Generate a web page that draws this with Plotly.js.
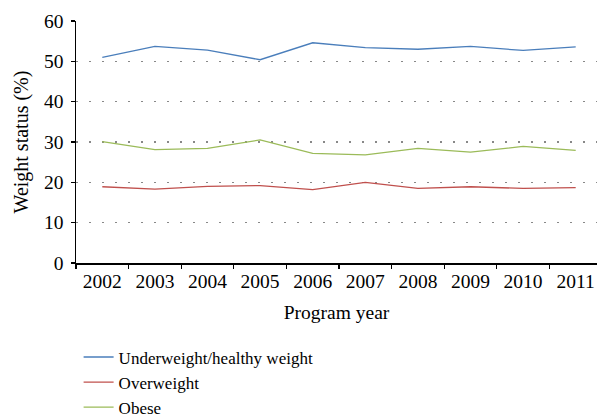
<!DOCTYPE html>
<html>
<head>
<meta charset="utf-8">
<script src="https://cdn.plot.ly/plotly-3.0.1.min.js"></script>
<style>html,body{margin:0;padding:0;overflow:hidden;background:#fff}</style>
</head>
<body>
<div id="chart" style="width:598px;height:417px"></div>
<script>
const years = ["2002","2003","2004","2005","2006","2007","2008","2009","2010","2011"];
const healthy = [51.0, 53.7, 52.8, 50.4, 54.6, 53.4, 53.0, 53.7, 52.7, 53.6];
const overweight = [18.9, 18.3, 19.0, 19.2, 18.2, 20.0, 18.5, 18.9, 18.5, 18.7];
const obese = [30.1, 28.1, 28.4, 30.5, 27.2, 26.8, 28.4, 27.5, 28.9, 27.9];
const seriesNames = ["Underweight/healthy weight", "Overweight", "Obese"];
const colors = ["#4a7ebb", "#c0504d", "#9bbb59"];

const fam = "Liberation Serif";
const data = [healthy, overweight, obese].map((ys, i) => ({
  type: "scatter", mode: "lines", x: years, y: ys, name: seriesNames[i],
  line: {color: colors[i], width: 1.3}
}));

const layout = {
  width: 598, height: 417,
  margin: {l: 76, r: 1, t: 21, b: 154, autoexpand: false},
  paper_bgcolor: "#fff", plot_bgcolor: "#fff",
  font: {family: fam, size: 19, color: "#000"},
  showlegend: true,
  legend: {x: 0.005, y: -0.316, xanchor: "left", yanchor: "top", orientation: "v",
           font: {family: fam, size: 17, color: "#000"}, tracegroupgap: 0,
           bgcolor: "rgba(0,0,0,0)"},
  xaxis: {
    type: "category", range: [-0.5, 9.405], tickson: "boundaries",
    showgrid: false, zeroline: false, automargin: false,
    showline: true, linecolor: "#000", linewidth: 1.5,
    ticks: "outside", ticklen: 4, tickcolor: "#000", tickwidth: 1.2,
    tickfont: {family: fam, size: 19.5, color: "#000"},
    title: {text: "Program year", font: {family: fam, size: 19.5, color: "#000"}, standoff: 14}
  },
  yaxis: {
    range: [0, 60], dtick: 10, tick0: 0, automargin: false,
    showgrid: true, gridcolor: "#888", gridwidth: 1.2, griddash: "1.5px,11.5px",
    zeroline: false,
    showline: true, linecolor: "#000", linewidth: 1.5,
    ticks: "outside", ticklen: 4, tickcolor: "#000", tickwidth: 1.2,
    ticklabelstandoff: 3,
    tickfont: {family: fam, size: 19.5, color: "#000"},
    title: {text: "Weight status (%)", font: {family: fam, size: 20, color: "#000"}, standoff: 10}
  }
};
Plotly.newPlot("chart", data, layout, {displayModeBar: false, staticPlot: true});
</script>
</body>
</html>
